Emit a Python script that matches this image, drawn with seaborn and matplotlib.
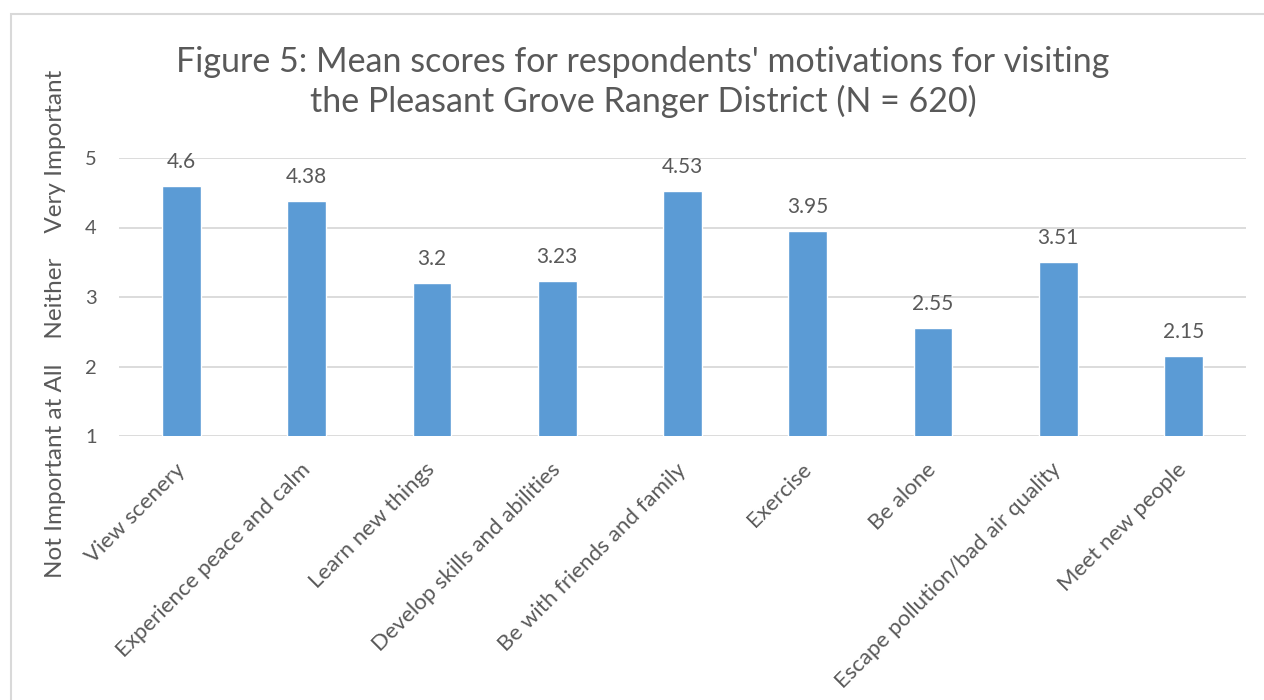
import matplotlib
matplotlib.use("Agg")
import matplotlib.pyplot as plt
import seaborn as sns
import pandas as pd
from matplotlib.patches import Rectangle

# data
motivations = ["View scenery", "Experience peace and calm", "Learn new things",
               "Develop skills and abilities", "Be with friends and family", "Exercise",
               "Be alone", "Escape pollution/bad air quality", "Meet new people"]
mean_scores = [4.6, 4.38, 3.2, 3.23, 4.53, 3.95, 2.55, 3.51, 2.15]
y_ticks = [1, 2, 3, 4, 5]

df = pd.DataFrame({"Motivation": motivations, "Score": mean_scores})

sns.set_style("white")
plt.rcParams["font.family"] = ["Lato", "DejaVu Sans"]
text_col = "#595959"
grid_col = "#D9D9D9"

fig = plt.figure(figsize=(12.64, 7), dpi=100)
ax = fig.add_axes([119 / 1264, 1 - 436 / 700, (1246 - 119) / 1264, (436 - 158) / 700])

sns.barplot(data=df, x="Motivation", y="Score", color="#5B9BD5", width=0.31,
            saturation=1, ax=ax, zorder=3)

ax.set_ylim(1, 5)
ax.set_yticks(y_ticks)
ax.set_yticklabels([str(t) for t in y_ticks], fontsize=14.5, color=text_col)
ax.yaxis.grid(True, color=grid_col, linewidth=1.3, zorder=0)
ax.set_axisbelow(True)
for s in ax.spines.values():
    s.set_visible(False)
ax.tick_params(axis="both", length=0)
ax.tick_params(axis="y", pad=16)
ax.tick_params(axis="x", pad=22)

ax.set_xticks(range(len(motivations)))
ax.set_xticklabels(motivations, rotation=45, ha="right", va="center",
                   rotation_mode="anchor", fontsize=16, color=text_col)
ax.set_xlabel("")
ax.set_ylabel("Not Important at All    Neither    Very Important",
              fontsize=17.5, color=text_col)
ax.yaxis.set_label_coords(-0.047, 0.403)

# value labels
for i, v in enumerate(mean_scores):
    ax.annotate(f"{v:g}", (i, v), xytext=(0, 14), textcoords="offset pixels",
                ha="center", va="bottom", fontsize=15, color=text_col)

fig.text(643 / 1264, 1 - 82 / 700, "Figure 5: Mean scores for respondents' motivations for visiting\n"
         "the Pleasant Grove Ranger District (N = 620)",
         ha="center", va="center", fontsize=24.5, color=text_col, linespacing=1.22)

# chart frame
fig.patches.append(Rectangle((11 / 1264, -0.05), 1.1, 1 - 14 / 700 + 0.05,
                             transform=fig.transFigure, fill=False,
                             edgecolor=grid_col, linewidth=1.5))

fig.savefig("out.png", dpi=100, facecolor="white")
